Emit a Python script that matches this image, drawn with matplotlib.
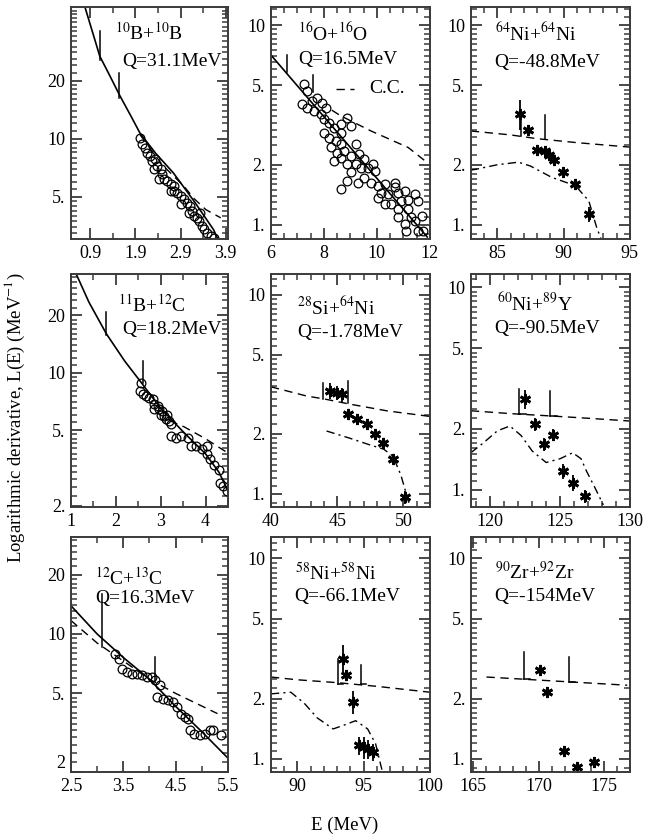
import numpy as np
import matplotlib.pyplot as plt
from matplotlib.ticker import NullFormatter, FixedLocator

plt.rcParams['font.family'] = ['Liberation Serif', 'DejaVu Serif']
plt.rcParams['mathtext.fontset'] = 'stix'

# ---- 10B+10B
b10_E = [2.01, 2.05, 2.12, 2.16, 2.23, 2.27, 2.31, 2.34, 2.38, 2.42, 2.46, 2.49, 2.53, 2.60, 2.68, 2.68, 2.75, 2.75,
         2.83, 2.90, 2.90, 2.97, 3.05, 3.09, 3.12, 3.16, 3.20, 3.27, 3.31, 3.34, 3.38, 3.42, 3.49, 3.57, 3.64]
b10_L = [10.1, 9.35, 8.99, 8.47, 8.14, 7.67, 6.95, 7.82, 7.22, 6.17, 6.95, 6.54, 6.17, 6.04, 5.81, 5.37, 5.70, 5.37,
         5.26, 5.06, 4.58, 4.86, 4.67, 4.15, 4.49, 4.23, 3.99, 3.91, 3.76, 4.15, 3.54, 3.40, 3.27, 3.14, 3.08]
b10_fit_E = [0.78, 0.95, 1.11, 1.3, 1.56, 1.8, 2.0, 2.35, 2.74, 3.2, 3.63, 3.72]
b10_fit_L = [48, 35.5, 26.7, 21.9, 16.6, 13.1, 10.7, 8.4, 6.66, 4.75, 3.39, 3.05]
b10_cc_E = [2.0, 2.5, 2.97, 3.2, 3.46, 3.79]
b10_cc_L = [10.5, 7.3, 5.7, 4.9, 4.3, 3.9]
b10_bar_E = [1.11, 1.54]
b10_bar_lo = [25.7, 16.3]
b10_bar_hi = [35.9, 21.9]

# ---- 16O+16O
o16_E = [7.24, 7.37, 7.18, 7.37, 7.56, 7.75, 7.94, 8.07, 7.62, 7.88,
         8.01, 8.20, 8.39, 8.64, 8.89, 9.02, 8.64, 8.01, 8.20, 8.45,
         8.64, 8.26, 8.51, 8.77, 9.02, 9.21, 9.34, 9.53, 9.21, 9.40,
         9.65, 9.85, 9.91, 9.02, 9.53, 8.89, 8.64, 9.27, 9.78, 10.04,
         10.29, 10.16, 10.42, 10.67, 10.67, 10.80, 11.05, 10.92, 11.18, 11.43,
         11.56, 10.54, 10.80, 11.18, 11.30, 11.05, 11.43, 11.56, 11.11, 11.69,
         11.75, 10.80, 10.29, 10.04, 8.64, 8.39, 8.89]
o16_L = [5.05, 4.68, 4.01, 3.86, 4.17, 4.33, 4.09, 3.86, 3.72, 3.58,
         3.38, 3.25, 3.07, 3.19, 3.44, 3.13, 2.89, 2.89, 2.73, 2.63,
         2.53, 2.44, 2.30, 2.34, 2.21, 2.53, 2.26, 2.13, 2.01, 1.93,
         1.93, 2.01, 1.86, 1.83, 1.72, 1.66, 1.51, 1.63, 1.63, 1.57,
         1.60, 1.45, 1.42, 1.54, 1.63, 1.45, 1.48, 1.32, 1.34, 1.42,
         1.32, 1.27, 1.20, 1.20, 1.09, 1.01, 1.05, 0.93, 0.93, 1.11,
         0.93, 1.09, 1.27, 1.37, 2.17, 2.09, 2.01]
o16_fit_E = [6.0, 9.0, 11.9]
o16_fit_L = [7.08, 2.44, 0.87]
o16_cc_E = [8.3, 8.64, 9.78, 11.18, 11.94]
o16_cc_L = [3.75, 3.51, 2.95, 2.44, 2.03]
o16_bar_E = [6.61, 7.6]
o16_bar_lo = [5.85, 4.6]
o16_bar_hi = [7.08, 5.6]

# ---- 64Ni+64Ni
ni64_E = [86.70, 87.33, 88.0, 88.62, 88.92, 89.25, 89.92, 90.87, 91.88]
ni64_L = [3.6, 2.97, 2.38, 2.35, 2.25, 2.11, 1.83, 1.6, 1.13]
ni64_err = [0.6, 0.15, 0.12, 0.12, 0.12, 0.1, 0.08, 0.06, 0.1]
ni64_dash_E = [83, 86, 88, 91, 95]
ni64_dash_L = [2.95, 2.82, 2.7, 2.58, 2.45]
ni64_cc_E = [83, 83.4, 85, 86.6, 87.5, 89.1, 90.9, 91.9, 92.5, 92.8]
ni64_cc_L = [1.88, 1.9, 2.0, 2.06, 1.97, 1.73, 1.57, 1.32, 0.97, 0.86]
ni64_bar_E = [86.77, 88.57]
ni64_bar_lo = [2.8, 2.69]
ni64_bar_hi = [3.5, 3.53]

# ---- 11B+12C
b11_E = [2.57, 2.53, 2.60, 2.68, 2.75, 2.82, 2.86, 2.93, 2.86, 2.97, 3.04, 3.01, 3.08, 3.15, 3.12, 3.19,
         3.23, 3.23, 3.34, 3.45, 3.60, 3.67, 3.78, 3.93, 4.04, 4.04, 4.11, 4.18, 4.29, 4.33, 4.40, 4.48]
b11_L = [8.86, 8.01, 7.69, 7.54, 7.39, 7.24, 6.81, 6.68, 6.41, 6.41, 6.29, 6.03, 5.92, 6.03, 5.68, 5.57,
         5.35, 4.64, 4.55, 4.64, 4.55, 4.11, 4.11, 3.95, 3.72, 4.11, 3.50, 3.29, 3.10, 2.64, 2.53, 2.38]
b11_fit_E = [1.13, 1.4, 1.79, 2.2, 2.57, 3.0, 3.5, 4.0, 4.3, 4.5]
b11_fit_L = [32.5, 23.5, 16.0, 11.5, 8.86, 6.5, 4.9, 3.75, 3.0, 2.4]
b11_cc_E = [3.2, 3.52, 4.0, 4.45]
b11_cc_L = [5.6, 5.2, 4.5, 3.85]
b11_bar_E = [1.79, 2.6]
b11_bar_lo = [15.7, 8.86]
b11_bar_hi = [20.8, 11.5]

# ---- 28Si+64Ni
si28_E = [44.45, 44.96, 45.33, 45.84, 46.47, 47.22, 47.85, 48.48, 49.23, 50.11]
si28_L = [3.29, 3.22, 3.16, 2.51, 2.37, 2.24, 2.0, 1.81, 1.50, 0.96]
si28_err = [0.3, 0.25, 0.25, 0.15, 0.12, 0.12, 0.12, 0.1, 0.08, 0.07]
si28_dash_E = [40, 42.7, 44, 46, 48.8, 52]
si28_dash_L = [3.45, 3.1, 3.0, 2.82, 2.61, 2.45]
si28_cc_E = [44.2, 46, 47.5, 48.5, 49.2, 49.8, 50.3, 50.5]
si28_cc_L = [2.07, 1.9, 1.76, 1.68, 1.55, 1.25, 0.96, 0.86]
si28_bar_E = [43.95, 45.84]
si28_bar_lo = [2.99, 2.87]
si28_bar_hi = [3.61, 3.68]

# ---- 60Ni+89Y
ni60_E = [122.5, 123.21, 123.81, 124.52, 125.24, 125.95, 126.79]
ni60_L = [2.79, 2.10, 1.67, 1.87, 1.23, 1.08, 0.93]
ni60_err = [0.3, 0.15, 0.12, 0.12, 0.1, 0.1, 0.07]
ni60_dash_E = [118.6, 121.5, 124.3, 127, 130]
ni60_dash_L = [2.45, 2.37, 2.31, 2.25, 2.18]
ni60_cc_E = [118.6, 119.5, 120.5, 121.4, 122.2, 123.0, 124.0, 125.0, 125.9, 126.5, 126.9, 127.5, 128.1]
ni60_cc_L = [1.52, 1.7, 1.95, 2.06, 1.85, 1.55, 1.36, 1.42, 1.52, 1.42, 1.23, 1.02, 0.84]
ni60_bar_E = [122.07, 124.29]
ni60_bar_lo = [2.35, 2.31]
ni60_bar_hi = [3.13, 3.07]

# ---- 12C+13C
c12_E = [3.34, 3.41, 3.47, 3.57, 3.66, 3.76, 3.85, 3.95, 4.04, 4.10, 4.20, 4.14, 4.26,
         4.36, 4.45, 4.52, 4.61, 4.67, 4.74, 4.77, 4.86, 4.96, 5.06, 5.15, 5.21, 5.37]
c12_L = [7.93, 7.48, 6.66, 6.41, 6.29, 6.29, 6.17, 6.05, 6.05, 5.82, 5.49, 4.80, 4.70,
         4.61, 4.52, 4.27, 3.95, 3.80, 3.72, 3.26, 3.13, 3.07, 3.13, 3.26, 3.26, 3.07]
c12_fit_E = [2.5, 3.0, 3.5, 4.0, 4.5, 5.0, 5.5]
c12_fit_L = [13.9, 10.0, 7.6, 5.9, 4.3, 3.2, 2.35]
c12_cc_E = [2.5, 3.0, 3.5, 4.0, 4.5, 5.3]
c12_cc_L = [11.7, 9.0, 7.3, 5.9, 5.0, 3.95]
c12_bar_E = [3.09, 4.1]
c12_bar_lo = [8.6, 5.8]
c12_bar_hi = [15.9, 7.6]

# ---- 58Ni+58Ni
ni58_E = [93.43, 93.68, 94.18, 94.68, 95.05, 95.3, 95.68]
ni58_L = [3.16, 2.61, 1.92, 1.17, 1.14, 1.12, 1.08]
ni58_err = [0.55, 0.15, 0.25, 0.12, 0.14, 0.12, 0.1]
ni58_dash_E = [88, 90, 93, 96, 100]
ni58_dash_L = [2.56, 2.48, 2.4, 2.3, 2.15]
ni58_cc_E = [88, 89.5, 90.5, 91.5, 92.7, 93.6, 94.4, 95.3, 95.9, 96.4]
ni58_cc_L = [2.11, 2.15, 1.9, 1.6, 1.41, 1.48, 1.55, 1.41, 1.19, 0.87]
ni58_bar_E = [93.05, 94.8]
ni58_bar_lo = [2.37, 2.37]
ni58_bar_hi = [3.16, 2.93]

# ---- 90Zr+92Zr
zr90_E = [170.13, 170.64, 171.92, 172.95, 174.23]
zr90_L = [2.77, 2.15, 1.09, 0.91, 0.96]
zr90_err = [0.1, 0.08, 0.05, 0.04, 0.05]
zr90_dash_E = [166, 171, 176.8]
zr90_dash_L = [2.56, 2.45, 2.33]
zr90_bar_E = [168.85, 172.31]
zr90_bar_lo = [2.51, 2.42]
zr90_bar_hi = [3.41, 3.22]

DASH = (0, (6, 4))
DASHDOT = (0, (6, 3, 1.5, 3))
EDGE = '#3a3a3a'


def frame(ax, xlim, ylim, xt, xl, xstep, yt, yl):
    ax.set_yscale('log')
    ax.set_xlim(*xlim)
    ax.set_ylim(*ylim)
    ax.set_xticks(xt, xl)
    first = xt[0] - xstep * np.floor((xt[0] - xlim[0]) / xstep)
    ax.xaxis.set_minor_locator(FixedLocator(np.arange(first, xlim[1] + 1e-6, xstep)))
    ax.set_yticks(yt, yl)
    ym = np.concatenate([np.arange(0.8, 1.0, 0.1), np.arange(1, 2, 0.1), np.arange(2, 5, 0.25),
                         np.arange(5, 10, 0.5), np.arange(10, 20, 1), np.arange(20, 50, 2)])
    ym = ym[(ym > ylim[0]) & (ym < ylim[1])]
    ax.yaxis.set_minor_locator(FixedLocator(ym))
    ax.yaxis.set_minor_formatter(NullFormatter())
    ax.tick_params(which='both', direction='in', top=True, right=True, labelsize=13,
                   color=EDGE, pad=4)
    ax.tick_params(which='major', length=8, width=1.3)
    ax.tick_params(which='minor', length=4.5, width=1.1)
    for s in ax.spines.values():
        s.set_linewidth(1.4)
        s.set_color(EDGE)


def label(ax, top, q, x1, y1, x2, y2):
    ax.text(x1, y1, top, transform=ax.transAxes, fontsize=14, va='center', ha='left')
    ax.text(x2, y2, q, transform=ax.transAxes, fontsize=14, va='center', ha='left')


def bars(ax, E, lo, hi, foot=0.0):
    for e, a, b in zip(E, lo, hi):
        ax.plot([e, e], [a, b], color='k', lw=1.1)
        if foot:
            ax.plot([e, e + foot], [a, a], color='k', lw=1.1)


def circles(ax, E, L):
    ax.plot(E, L, 'o', ms=6.3, mfc='none', mec='k', mew=0.9)


def stars(ax, E, L, err):
    ax.errorbar(E, L, yerr=err, fmt='none', ecolor='k', elinewidth=1.3, capsize=0)
    ax.plot(E, L, marker=(6, 2, 0), ls='none', ms=8, mec='k', mew=2.0)


fig = plt.figure(figsize=(6.45, 8.39), dpi=100)
cols = [(0.110, 0.2434), (0.420, 0.2465), (0.730, 0.2465)]
rows = [(0.7151, 0.2765), (0.3957, 0.2777), (0.0799, 0.2801)]
axs = [[fig.add_axes([c[0], r[0], c[1], r[1]]) for c in cols] for r in rows]

y1 = ([1, 2, 5, 10], ['1.', '2.', '5.', '10'])

# 10B+10B
ax = axs[0][0]
circles(ax, b10_E, b10_L)
ax.plot(b10_fit_E, b10_fit_L, 'k-', lw=1.2)
ax.plot(b10_cc_E, b10_cc_L, color='k', ls=DASH, lw=1.0)
bars(ax, b10_bar_E, b10_bar_lo, b10_bar_hi)
frame(ax, (0.47, 3.95), (3.03, 48), [0.9, 1.9, 2.9, 3.9], ['0.9', '1.9', '2.9', '3.9'], 0.5,
      [5, 10, 20], ['5.', '10', '20'])
label(ax, r'$^{10}$B+$^{10}$B', 'Q=31.1MeV', 0.28, 0.888, 0.325, 0.765)

# 16O+16O
ax = axs[0][1]
circles(ax, o16_E, o16_L)
ax.plot(o16_fit_E, o16_fit_L, 'k-', lw=1.2)
ax.plot(o16_cc_E, o16_cc_L, color='k', ls=DASH, lw=1.0)
bars(ax, o16_bar_E, o16_bar_lo, o16_bar_hi)
frame(ax, (6, 12), (0.85, 12.3), [6, 8, 10, 12], ['6', '8', '10', '12'], 0.5, *y1)
label(ax, r'$^{16}$O+$^{16}$O', 'Q=16.5MeV', 0.17, 0.888, 0.17, 0.772)
ax.plot([0.41, 0.52], [0.647, 0.647], transform=ax.transAxes, color='k', ls=DASH, lw=1.0)
ax.text(0.62, 0.647, 'C.C.', transform=ax.transAxes, fontsize=14, va='center', ha='left')

# 64Ni+64Ni
ax = axs[0][2]
ax.plot(ni64_dash_E, ni64_dash_L, color='k', ls=DASH, lw=1.0)
ax.plot(ni64_cc_E, ni64_cc_L, color='k', ls=DASHDOT, lw=1.0)
bars(ax, ni64_bar_E, ni64_bar_lo, ni64_bar_hi)
stars(ax, ni64_E, ni64_L, ni64_err)
frame(ax, (83, 95), (0.85, 12.3), [85, 90, 95], ['85', '90', '95'], 1, *y1)
label(ax, r'$^{64}$Ni+$^{64}$Ni', 'Q=-48.8MeV', 0.15, 0.888, 0.15, 0.763)

# 11B+12C
ax = axs[1][0]
circles(ax, b11_E, b11_L)
ax.plot(b11_fit_E, b11_fit_L, 'k-', lw=1.2)
ax.plot(b11_cc_E, b11_cc_L, color='k', ls=DASH, lw=1.0)
bars(ax, b11_bar_E, b11_bar_lo, b11_bar_hi)
frame(ax, (1, 4.5), (1.97, 33), [1, 2, 3, 4], ['1', '2', '3', '4'], 0.5,
      [2, 5, 10, 20], ['2.', '5.', '10', '20'])
label(ax, r'$^{11}$B+$^{12}$C', 'Q=18.2MeV', 0.30, 0.867, 0.325, 0.76)

# 28Si+64Ni
ax = axs[1][1]
ax.plot(si28_dash_E, si28_dash_L, color='k', ls=DASH, lw=1.0)
ax.plot(si28_cc_E, si28_cc_L, color='k', ls=DASHDOT, lw=1.0)
bars(ax, si28_bar_E, si28_bar_lo, si28_bar_hi)
stars(ax, si28_E, si28_L, si28_err)
frame(ax, (40, 52), (0.86, 12.7), [40, 45, 50], ['40', '45', '50'], 1, *y1)
label(ax, r'$^{28}$Si+$^{64}$Ni', 'Q=-1.78MeV', 0.164, 0.858, 0.164, 0.751)

# 60Ni+89Y
ax = axs[1][2]
ax.plot(ni60_dash_E, ni60_dash_L, color='k', ls=DASH, lw=1.0)
ax.plot(ni60_cc_E, ni60_cc_L, color='k', ls=DASHDOT, lw=1.0)
bars(ax, ni60_bar_E, ni60_bar_lo, ni60_bar_hi, foot=0.5)
stars(ax, ni60_E, ni60_L, ni60_err)
frame(ax, (118.6, 130), (0.82, 11.6), [120, 125, 130], ['120', '125', '130'], 1, *y1)
label(ax, r'$^{60}$Ni+$^{89}$Y', 'Q=-90.5MeV', 0.164, 0.875, 0.15, 0.768)

# 12C+13C
ax = axs[2][0]
circles(ax, c12_E, c12_L)
ax.plot(c12_fit_E, c12_fit_L, 'k-', lw=1.2)
ax.plot(c12_cc_E, c12_cc_L, color='k', ls=DASH, lw=1.0)
bars(ax, c12_bar_E, c12_bar_lo, c12_bar_hi)
frame(ax, (2.5, 5.5), (2.0, 31), [2.5, 3.5, 4.5, 5.5], ['2.5', '3.5', '4.5', '5.5'], 0.5,
      [2, 5, 10, 20], ['2', '5.', '10', '20'])
ax.get_yticklabels()[0].set_verticalalignment('bottom')
label(ax, r'$^{12}$C+$^{13}$C', 'Q=16.3MeV', 0.153, 0.826, 0.153, 0.74)

# 58Ni+58Ni
ax = axs[2][1]
ax.plot(ni58_dash_E, ni58_dash_L, color='k', ls=DASH, lw=1.0)
ax.plot(ni58_cc_E, ni58_cc_L, color='k', ls=DASHDOT, lw=1.0)
bars(ax, ni58_bar_E, ni58_bar_lo, ni58_bar_hi, foot=0.4)
stars(ax, ni58_E, ni58_L, ni58_err)
frame(ax, (88, 100), (0.86, 12.8), [90, 95, 100], ['90', '95', '100'], 1, *y1)
label(ax, r'$^{58}$Ni+$^{58}$Ni', 'Q=-66.1MeV', 0.15, 0.847, 0.15, 0.745)

# 90Zr+92Zr
ax = axs[2][2]
ax.plot(zr90_dash_E, zr90_dash_L, color='k', ls=DASH, lw=1.0)
bars(ax, zr90_bar_E, zr90_bar_lo, zr90_bar_hi, foot=0.5)
stars(ax, zr90_E, zr90_L, zr90_err)
frame(ax, (164.8, 177), (0.86, 12.8), [165, 170, 175], ['165', '170', '175'], 1, *y1)
label(ax, r'$^{90}$Zr+$^{92}$Zr', 'Q=-154MeV', 0.15, 0.851, 0.15, 0.745)

fig.text(0.023, 0.502, r'Logarithmic derivative, L(E) (MeV$^{-1}$)', rotation=90,
         ha='center', va='center', fontsize=13.5)
fig.text(0.535, 0.0167, 'E (MeV)', ha='center', va='center', fontsize=13.5)

plt.savefig('out.png', dpi=100)
